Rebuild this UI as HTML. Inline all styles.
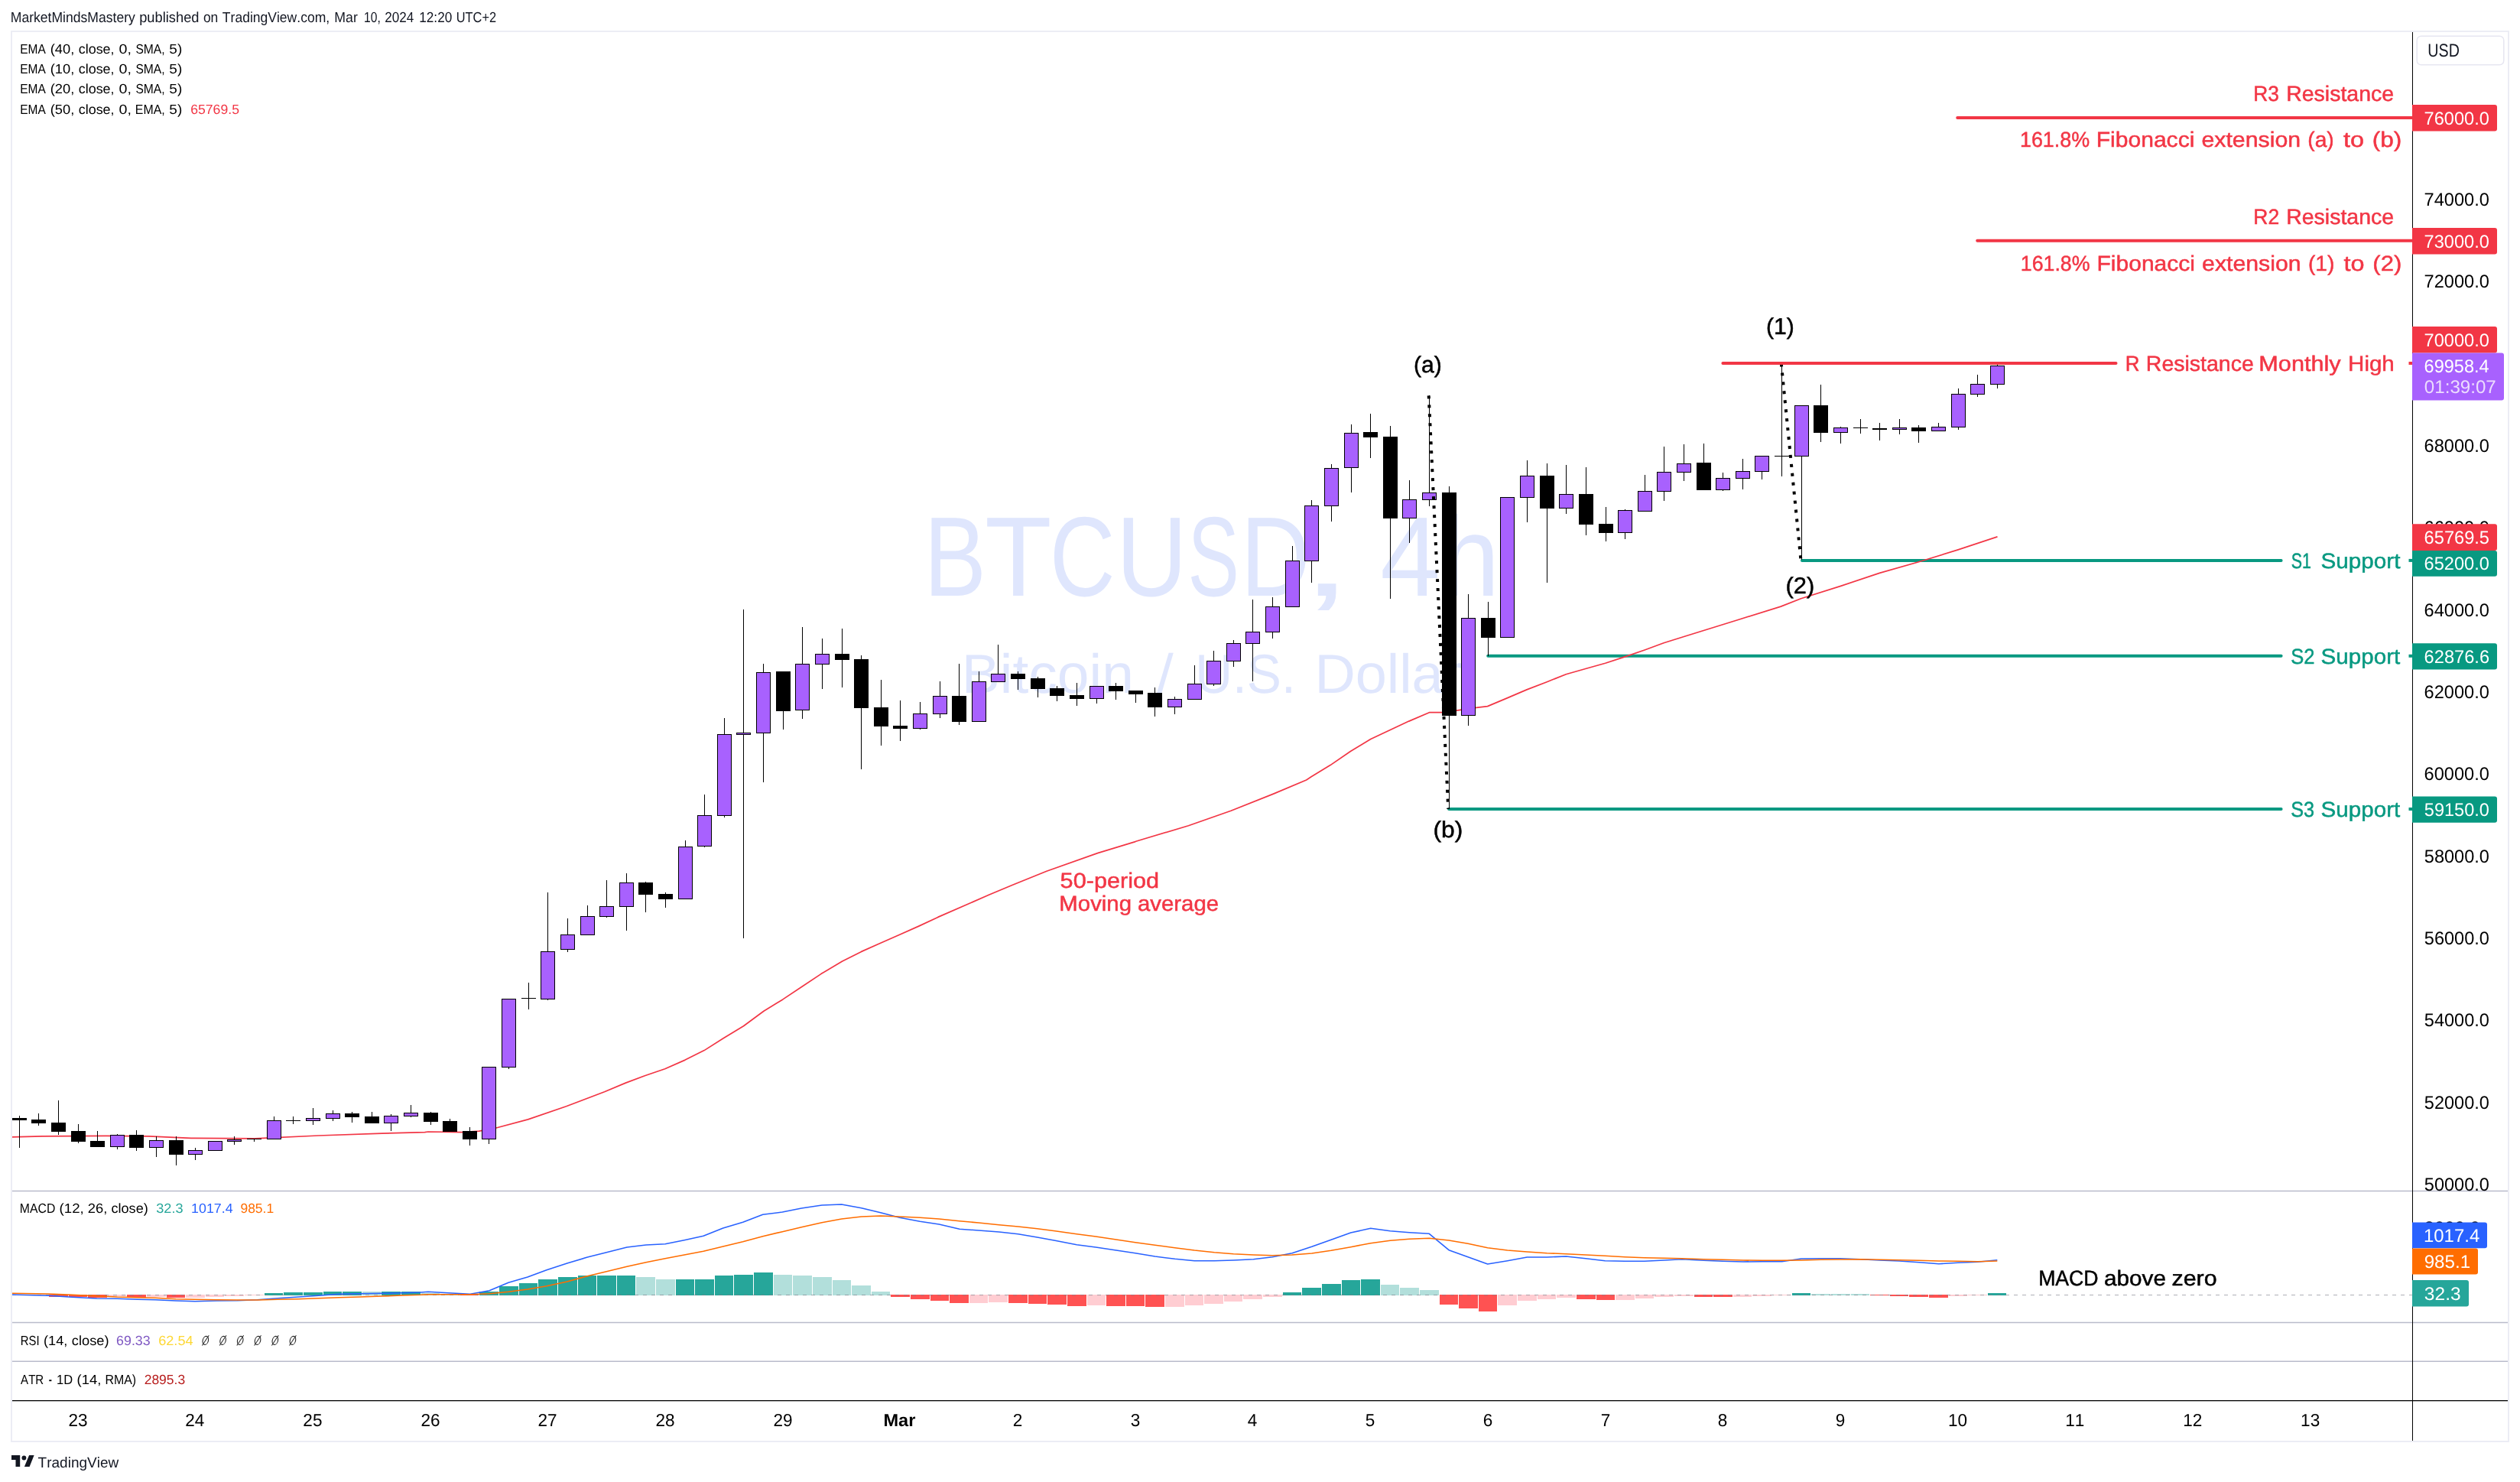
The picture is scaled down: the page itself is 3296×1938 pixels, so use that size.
<!DOCTYPE html>
<html><head><meta charset="utf-8"><title>BTCUSD 4h</title>
<style>
html,body{margin:0;padding:0;background:#fff;}
body{width:3296px;height:1938px;overflow:hidden;font-family:"Liberation Sans",sans-serif;}
svg{display:block;will-change:transform;}
svg text{font-family:"Liberation Sans",sans-serif;font-kerning:none;white-space:pre;text-rendering:geometricPrecision;}
</style></head><body>
<svg width="3296" height="1938" viewBox="0 0 3296 1938">
<rect width="3296" height="1938" fill="#fff"/>
<rect x="15" y="41" width="3266" height="1844" fill="none" stroke="#ecedf5" stroke-width="2"/>
<g><text transform="translate(1208.58 779.40) scale(0.8252 1)" font-size="148" fill="#dfe6fd">B</text><text transform="translate(1288.08 779.40) scale(0.9691 1)" font-size="148" fill="#dfe6fd">T</text><text transform="translate(1372.89 779.40) scale(0.8002 1)" font-size="148" fill="#dfe6fd">C</text><text transform="translate(1460.08 779.40) scale(0.8686 1)" font-size="148" fill="#dfe6fd">U</text><text transform="translate(1553.61 779.40) scale(0.6831 1)" font-size="148" fill="#dfe6fd">S</text><text transform="translate(1622.43 779.40) scale(0.8545 1)" font-size="148" fill="#dfe6fd">D</text><text transform="translate(1701.05 779.40) scale(1.6660 1)" font-size="148" fill="#dfe6fd">,</text><text transform="translate(1805.16 779.40) scale(0.9547 1)" font-size="148" fill="#dfe6fd">4</text><text transform="translate(1885.00 779.40) scale(0.9257 1)" font-size="148" fill="#dfe6fd">h</text><text transform="translate(1257.85 906.40) scale(1.0412 1)" font-size="72" fill="#dfe6fd">Bitcoin</text><text transform="translate(1513.00 906.40) scale(1.0848 1)" font-size="72" fill="#dfe6fd">/</text><text transform="translate(1563.18 906.40) scale(0.9390 1)" font-size="72" fill="#dfe6fd">U.S.</text><text transform="translate(1719.45 906.40) scale(1.0251 1)" font-size="72" fill="#dfe6fd">Dollar</text></g>
<line x1="16" x2="3280" y1="1557.5" y2="1557.5" stroke="#b9bbcb" stroke-width="1.5"/><line x1="16" x2="3280" y1="1729.5" y2="1729.5" stroke="#b9bbcb" stroke-width="1.5"/><line x1="16" x2="3280" y1="1780.3" y2="1780.3" stroke="#b9bbcb" stroke-width="1.5"/>
<defs><clipPath id="cp"><rect x="16" y="42" width="3139" height="1515"/></clipPath><clipPath id="cm"><rect x="16" y="1558" width="3139" height="171"/></clipPath></defs>
<g clip-path="url(#cm)"><rect x="64" y="1693" width="25" height="3" fill="#ff5252"/><rect x="90" y="1693" width="24" height="3" fill="#ff5252"/><rect x="115" y="1693" width="25" height="4" fill="#ff5252"/><rect x="141" y="1693" width="24" height="2" fill="#ffcdd2"/><rect x="166" y="1693" width="25" height="4" fill="#ff5252"/><rect x="192" y="1693" width="25" height="3" fill="#ffcdd2"/><rect x="218" y="1693" width="24" height="4" fill="#ff5252"/><rect x="243" y="1693" width="25" height="4" fill="#ffcdd2"/><rect x="269" y="1693" width="24" height="3" fill="#ffcdd2"/><rect x="294" y="1693" width="25" height="2" fill="#ffcdd2"/><rect x="320" y="1693" width="25" height="1" fill="#ffcdd2"/><rect x="346" y="1691" width="24" height="3" fill="#26a69a"/><rect x="371" y="1690" width="25" height="4" fill="#26a69a"/><rect x="397" y="1690" width="25" height="4" fill="#26a69a"/><rect x="423" y="1689" width="24" height="5" fill="#26a69a"/><rect x="448" y="1689" width="25" height="5" fill="#26a69a"/><rect x="474" y="1689" width="24" height="5" fill="#b2dfdb"/><rect x="499" y="1689" width="25" height="5" fill="#26a69a"/><rect x="525" y="1689" width="25" height="5" fill="#26a69a"/><rect x="551" y="1691" width="24" height="3" fill="#b2dfdb"/><rect x="576" y="1693" width="25" height="1" fill="#b2dfdb"/><rect x="602" y="1693" width="24" height="1" fill="#ff5252"/><rect x="627" y="1689" width="25" height="5" fill="#26a69a"/><rect x="653" y="1682" width="25" height="12" fill="#26a69a"/><rect x="679" y="1678" width="24" height="16" fill="#26a69a"/><rect x="704" y="1673" width="25" height="21" fill="#26a69a"/><rect x="730" y="1670" width="25" height="24" fill="#26a69a"/><rect x="756" y="1668" width="24" height="26" fill="#26a69a"/><rect x="781" y="1668" width="25" height="26" fill="#26a69a"/><rect x="807" y="1668" width="24" height="26" fill="#26a69a"/><rect x="832" y="1670" width="25" height="24" fill="#b2dfdb"/><rect x="858" y="1673" width="25" height="21" fill="#b2dfdb"/><rect x="884" y="1673" width="24" height="21" fill="#26a69a"/><rect x="909" y="1673" width="25" height="21" fill="#26a69a"/><rect x="935" y="1668" width="24" height="26" fill="#26a69a"/><rect x="960" y="1667" width="25" height="27" fill="#26a69a"/><rect x="986" y="1664" width="25" height="30" fill="#26a69a"/><rect x="1012" y="1667" width="24" height="27" fill="#b2dfdb"/><rect x="1037" y="1668" width="25" height="26" fill="#b2dfdb"/><rect x="1063" y="1670" width="25" height="24" fill="#b2dfdb"/><rect x="1089" y="1674" width="24" height="20" fill="#b2dfdb"/><rect x="1114" y="1681" width="25" height="13" fill="#b2dfdb"/><rect x="1140" y="1689" width="24" height="5" fill="#b2dfdb"/><rect x="1165" y="1693" width="25" height="3" fill="#ff5252"/><rect x="1191" y="1693" width="25" height="6" fill="#ff5252"/><rect x="1217" y="1693" width="24" height="8" fill="#ff5252"/><rect x="1242" y="1693" width="25" height="11" fill="#ff5252"/><rect x="1268" y="1693" width="24" height="11" fill="#ffcdd2"/><rect x="1293" y="1693" width="25" height="10" fill="#ffcdd2"/><rect x="1319" y="1693" width="25" height="11" fill="#ff5252"/><rect x="1345" y="1693" width="24" height="12" fill="#ff5252"/><rect x="1370" y="1693" width="25" height="13" fill="#ff5252"/><rect x="1396" y="1693" width="25" height="15" fill="#ff5252"/><rect x="1422" y="1693" width="24" height="14" fill="#ffcdd2"/><rect x="1447" y="1693" width="25" height="15" fill="#ff5252"/><rect x="1473" y="1693" width="24" height="15" fill="#ff5252"/><rect x="1498" y="1693" width="25" height="16" fill="#ff5252"/><rect x="1524" y="1693" width="25" height="16" fill="#ffcdd2"/><rect x="1550" y="1693" width="24" height="14" fill="#ffcdd2"/><rect x="1575" y="1693" width="25" height="12" fill="#ffcdd2"/><rect x="1601" y="1693" width="24" height="9" fill="#ffcdd2"/><rect x="1626" y="1693" width="25" height="6" fill="#ffcdd2"/><rect x="1652" y="1693" width="25" height="3" fill="#ffcdd2"/><rect x="1678" y="1690" width="24" height="4" fill="#26a69a"/><rect x="1703" y="1684" width="25" height="10" fill="#26a69a"/><rect x="1729" y="1679" width="25" height="15" fill="#26a69a"/><rect x="1755" y="1674" width="24" height="20" fill="#26a69a"/><rect x="1780" y="1673" width="25" height="21" fill="#26a69a"/><rect x="1806" y="1680" width="24" height="14" fill="#b2dfdb"/><rect x="1831" y="1684" width="25" height="10" fill="#b2dfdb"/><rect x="1857" y="1687" width="25" height="7" fill="#b2dfdb"/><rect x="1883" y="1693" width="24" height="13" fill="#ff5252"/><rect x="1908" y="1693" width="25" height="18" fill="#ff5252"/><rect x="1934" y="1693" width="24" height="22" fill="#ff5252"/><rect x="1959" y="1693" width="25" height="14" fill="#ffcdd2"/><rect x="1985" y="1693" width="25" height="8" fill="#ffcdd2"/><rect x="2011" y="1693" width="24" height="6" fill="#ffcdd2"/><rect x="2036" y="1693" width="25" height="4" fill="#ffcdd2"/><rect x="2062" y="1693" width="25" height="6" fill="#ff5252"/><rect x="2088" y="1693" width="24" height="7" fill="#ff5252"/><rect x="2113" y="1693" width="25" height="7" fill="#ffcdd2"/><rect x="2139" y="1693" width="24" height="5" fill="#ffcdd2"/><rect x="2164" y="1693" width="25" height="3" fill="#ffcdd2"/><rect x="2190" y="1693" width="25" height="2" fill="#ffcdd2"/><rect x="2216" y="1693" width="24" height="3" fill="#ff5252"/><rect x="2241" y="1693" width="25" height="3" fill="#ff5252"/><rect x="2267" y="1693" width="24" height="3" fill="#ffcdd2"/><rect x="2292" y="1693" width="25" height="2" fill="#ffcdd2"/><rect x="2318" y="1693" width="25" height="1" fill="#ffcdd2"/><rect x="2344" y="1691" width="24" height="3" fill="#26a69a"/><rect x="2369" y="1692" width="25" height="2" fill="#b2dfdb"/><rect x="2395" y="1692" width="25" height="2" fill="#b2dfdb"/><rect x="2421" y="1692" width="24" height="2" fill="#b2dfdb"/><rect x="2446" y="1693" width="25" height="1" fill="#ff5252"/><rect x="2472" y="1693" width="24" height="2" fill="#ff5252"/><rect x="2497" y="1693" width="25" height="3" fill="#ff5252"/><rect x="2523" y="1693" width="25" height="4" fill="#ff5252"/><rect x="2549" y="1693" width="24" height="2" fill="#ffcdd2"/><rect x="2574" y="1693" width="25" height="1" fill="#ffcdd2"/><rect x="2600" y="1691" width="24" height="3" fill="#26a69a"/><line x1="16" x2="3155" y1="1693.5" y2="1693.5" stroke="#787b86" stroke-opacity="0.6" stroke-width="1" stroke-dasharray="5 6"/><path d="M15.0 1693.0 L63.3 1694.3 L90.0 1696.0 L126.7 1698.0 L153.3 1698.3 L180.0 1699.3 L203.3 1699.7 L230.0 1701.0 L255.0 1701.7 L283.3 1701.0 L310.0 1700.7 L336.7 1699.7 L363.3 1697.7 L390.0 1696.0 L416.7 1694.3 L443.3 1692.3 L470.0 1691.7 L500.0 1691.3 L525.0 1690.7 L550.0 1690.0 L560.0 1689.3 L586.7 1690.7 L615.0 1692.3 L640.0 1687.7 L665.0 1677.3 L690.0 1670.0 L715.0 1660.7 L741.7 1652.0 L768.3 1644.0 L793.3 1637.7 L820.0 1631.0 L845.0 1628.0 L870.0 1626.7 L895.0 1621.7 L920.0 1616.3 L945.7 1606.0 L971.7 1598.3 L997.7 1588.3 L1023.3 1585.0 L1048.3 1580.0 L1075.0 1576.0 L1100.7 1575.0 L1126.7 1579.7 L1151.7 1585.7 L1176.7 1592.3 L1203.3 1597.3 L1228.3 1601.0 L1255.0 1607.3 L1280.0 1609.0 L1306.7 1611.0 L1331.7 1613.7 L1356.7 1618.0 L1380.0 1622.3 L1408.3 1627.7 L1433.3 1631.0 L1460.0 1635.0 L1485.0 1638.7 L1510.7 1643.0 L1536.7 1646.3 L1562.3 1648.7 L1588.3 1648.7 L1613.3 1648.0 L1639.3 1646.7 L1664.3 1643.7 L1690.0 1638.7 L1715.7 1630.3 L1741.0 1621.3 L1766.7 1612.0 L1792.7 1606.3 L1818.3 1609.7 L1843.3 1611.7 L1869.3 1613.3 L1895.0 1634.7 L1920.0 1643.7 L1945.7 1653.0 L1971.7 1648.7 L1997.3 1644.0 L2023.3 1644.0 L2048.3 1643.0 L2074.0 1645.7 L2099.3 1648.7 L2125.3 1649.3 L2150.7 1649.3 L2176.7 1648.0 L2200.0 1646.7 L2228.3 1648.3 L2253.3 1649.3 L2280.0 1650.0 L2305.0 1649.7 L2330.7 1649.7 L2356.0 1646.0 L2381.7 1645.7 L2406.7 1645.7 L2433.3 1646.7 L2458.3 1648.0 L2484.0 1649.0 L2510.0 1650.7 L2535.7 1652.7 L2561.0 1651.3 L2586.7 1650.3 L2612.3 1647.7" fill="none" stroke="#2962ff" stroke-width="1.6" stroke-linejoin="round"/><path d="M15.0 1691.3 L63.3 1692.0 L90.0 1693.0 L126.7 1694.7 L153.3 1696.0 L180.0 1696.7 L203.3 1697.3 L230.0 1698.7 L255.0 1699.3 L283.3 1699.7 L310.0 1700.0 L336.7 1700.0 L363.3 1699.3 L390.0 1698.7 L416.7 1697.7 L443.3 1696.7 L470.0 1696.0 L500.0 1695.0 L525.0 1694.0 L550.0 1693.3 L560.0 1692.7 L615.0 1692.7 L640.0 1691.7 L665.0 1689.3 L690.0 1686.0 L715.0 1681.7 L741.7 1676.0 L768.3 1668.7 L793.3 1662.7 L820.0 1656.3 L845.0 1650.7 L870.0 1645.7 L895.0 1641.0 L920.0 1636.3 L945.7 1630.0 L971.7 1623.7 L997.7 1616.7 L1023.3 1610.7 L1048.3 1604.7 L1075.0 1598.7 L1100.7 1594.0 L1126.7 1591.0 L1151.7 1590.0 L1176.7 1591.0 L1203.3 1592.3 L1228.3 1594.0 L1255.0 1596.7 L1280.0 1599.0 L1306.7 1601.7 L1331.7 1604.0 L1356.7 1606.7 L1380.0 1609.7 L1408.3 1613.7 L1433.3 1617.0 L1460.0 1621.0 L1485.0 1624.7 L1510.7 1628.3 L1536.7 1631.7 L1562.3 1635.0 L1588.3 1637.7 L1613.3 1639.7 L1639.3 1641.0 L1664.3 1641.7 L1690.0 1641.0 L1715.7 1639.0 L1741.0 1635.3 L1766.7 1630.7 L1792.7 1625.7 L1818.3 1622.3 L1843.3 1620.3 L1869.3 1619.3 L1895.0 1622.0 L1920.0 1626.3 L1945.7 1631.7 L1971.7 1635.0 L1997.3 1637.0 L2023.3 1638.7 L2048.3 1639.7 L2074.0 1641.0 L2099.3 1642.3 L2125.3 1643.7 L2150.7 1644.7 L2176.7 1645.3 L2200.0 1645.7 L2228.3 1646.7 L2253.3 1647.3 L2280.0 1648.0 L2305.0 1648.3 L2330.7 1648.3 L2356.0 1648.0 L2381.7 1647.3 L2406.7 1647.0 L2433.3 1646.7 L2458.3 1647.3 L2484.0 1647.7 L2510.0 1648.3 L2535.7 1649.0 L2561.0 1649.3 L2586.7 1649.7 L2612.3 1649.0" fill="none" stroke="#ff6d00" stroke-width="1.6" stroke-linejoin="round"/></g>
<g clip-path="url(#cp)"><line x1="2357.0" x2="2983.6" y1="732.9" y2="732.9" stroke="#089981" stroke-width="4" stroke-linecap="round"/><rect x="3150.5" y="730.9" width="4.5" height="4" fill="#089981"/><line x1="1946.2" x2="2983.6" y1="857.8" y2="857.8" stroke="#089981" stroke-width="4" stroke-linecap="round"/><rect x="3150.5" y="855.8" width="4.5" height="4" fill="#089981"/><line x1="1895.1" x2="2983.6" y1="1058.0" y2="1058.0" stroke="#089981" stroke-width="4" stroke-linecap="round"/><rect x="3150.5" y="1056.0" width="4.5" height="4" fill="#089981"/><path d="M11.1 1486.9 L55.6 1485.8 L138.9 1485.3 L194.4 1485.8 L250.0 1488.3 L333.3 1488.9 L416.7 1485.0 L500.0 1482.2 L555.6 1480.6 L560.0 1480.0 L604.4 1480.6 L626.7 1479.2 L648.9 1475.0 L690.6 1463.9 L740.6 1446.7 L790.6 1427.8 L818.3 1416.1 L843.3 1406.7 L869.7 1397.8 L896.1 1386.1 L921.1 1373.6 L946.1 1357.8 L972.5 1341.7 L998.9 1322.2 L1023.9 1306.9 L1048.9 1290.3 L1073.9 1273.6 L1101.7 1256.9 L1126.7 1244.4 L1151.7 1233.3 L1176.7 1222.2 L1201.7 1211.1 L1226.7 1199.4 L1293.9 1170.0 L1324.4 1157.2 L1368.9 1139.2 L1435.6 1115.6 L1485.0 1100.6 L1485.6 1100.3 L1554.4 1079.7 L1610.0 1060.3 L1665.6 1038.1 L1708.6 1020.0 L1715.0 1015.8 L1740.0 1000.6 L1766.4 982.5 L1792.8 966.4 L1817.8 954.7 L1842.8 943.1 L1869.4 931.7 L1885.8 931.7 L1906.7 928.9 L1928.9 925.6 L1945.6 923.6 L1970.6 913.1 L1996.9 901.9 L2023.3 891.7 L2048.3 881.7 L2074.7 874.2 L2099.7 867.2 L2125.3 858.9 L2151.1 850.0 L2176.1 840.8 L2202.5 832.5 L2275.0 810.0 L2329.2 793.1 L2355.6 782.8 L2408.3 766.1 L2458.3 749.4 L2509.7 734.7 L2561.1 718.9 L2612.5 701.9" fill="none" stroke="#f23645" stroke-width="1.7" stroke-linejoin="round"/>
<rect x="25.0" y="1459" width="1" height="42" fill="#000"/><rect x="16.0" y="1462" width="19" height="3" fill="#000"/><rect x="50.0" y="1456" width="1" height="16" fill="#000"/><rect x="41.0" y="1464" width="19" height="5" fill="#000"/><rect x="76.0" y="1439" width="1" height="45" fill="#000"/><rect x="67.0" y="1468" width="19" height="12" fill="#000"/><rect x="102.0" y="1470" width="1" height="25" fill="#000"/><rect x="93.0" y="1479" width="19" height="14" fill="#000"/><rect x="127.0" y="1479" width="1" height="21" fill="#000"/><rect x="118.0" y="1492" width="19" height="8" fill="#000"/><rect x="153.0" y="1483" width="1" height="20" fill="#000"/><rect x="144.0" y="1484" width="19" height="16" fill="#000"/><rect x="145.0" y="1485" width="17" height="14" fill="#a861fe"/><rect x="178.0" y="1478" width="1" height="27" fill="#000"/><rect x="169.0" y="1484" width="19" height="17" fill="#000"/><rect x="204.0" y="1486" width="1" height="27" fill="#000"/><rect x="195.0" y="1491" width="19" height="10" fill="#000"/><rect x="196.0" y="1492" width="17" height="8" fill="#a861fe"/><rect x="230.0" y="1486" width="1" height="38" fill="#000"/><rect x="221.0" y="1491" width="19" height="19" fill="#000"/><rect x="255.0" y="1501" width="1" height="16" fill="#000"/><rect x="246.0" y="1504" width="19" height="6" fill="#000"/><rect x="247.0" y="1505" width="17" height="4" fill="#a861fe"/><rect x="281.0" y="1492" width="1" height="13" fill="#000"/><rect x="272.0" y="1492" width="19" height="13" fill="#000"/><rect x="273.0" y="1493" width="17" height="11" fill="#a861fe"/><rect x="306.0" y="1486" width="1" height="11" fill="#000"/><rect x="297.0" y="1490" width="19" height="3" fill="#000"/><rect x="298.0" y="1491" width="17" height="1" fill="#a861fe"/><rect x="332.0" y="1489" width="1" height="4" fill="#000"/><rect x="323.0" y="1489" width="19" height="1" fill="#000"/><rect x="358.0" y="1460" width="1" height="30" fill="#000"/><rect x="349.0" y="1465" width="19" height="25" fill="#000"/><rect x="350.0" y="1466" width="17" height="23" fill="#a861fe"/><rect x="383.0" y="1460" width="1" height="10" fill="#000"/><rect x="374.0" y="1465" width="19" height="1" fill="#000"/><rect x="409.0" y="1449" width="1" height="22" fill="#000"/><rect x="400.0" y="1462" width="19" height="4" fill="#000"/><rect x="401.0" y="1463" width="17" height="2" fill="#a861fe"/><rect x="435.0" y="1452" width="1" height="14" fill="#000"/><rect x="426.0" y="1456" width="19" height="7" fill="#000"/><rect x="427.0" y="1457" width="17" height="5" fill="#a861fe"/><rect x="460.0" y="1454" width="1" height="14" fill="#000"/><rect x="451.0" y="1456" width="19" height="5" fill="#000"/><rect x="486.0" y="1454" width="1" height="15" fill="#000"/><rect x="477.0" y="1460" width="19" height="9" fill="#000"/><rect x="511.0" y="1457" width="1" height="22" fill="#000"/><rect x="502.0" y="1459" width="19" height="10" fill="#000"/><rect x="503.0" y="1460" width="17" height="8" fill="#a861fe"/><rect x="537.0" y="1445" width="1" height="16" fill="#000"/><rect x="528.0" y="1455" width="19" height="5" fill="#000"/><rect x="529.0" y="1456" width="17" height="3" fill="#a861fe"/><rect x="563.0" y="1454" width="1" height="17" fill="#000"/><rect x="554.0" y="1455" width="19" height="12" fill="#000"/><rect x="588.0" y="1463" width="1" height="17" fill="#000"/><rect x="579.0" y="1466" width="19" height="14" fill="#000"/><rect x="614.0" y="1474" width="1" height="24" fill="#000"/><rect x="605.0" y="1479" width="19" height="11" fill="#000"/><rect x="639.0" y="1395" width="1" height="101" fill="#000"/><rect x="630.0" y="1395" width="19" height="95" fill="#000"/><rect x="631.0" y="1396" width="17" height="93" fill="#a861fe"/><rect x="665.0" y="1306" width="1" height="92" fill="#000"/><rect x="656.0" y="1306" width="19" height="90" fill="#000"/><rect x="657.0" y="1307" width="17" height="88" fill="#a861fe"/><rect x="691.0" y="1285" width="1" height="35" fill="#000"/><rect x="682.0" y="1305" width="19" height="1" fill="#000"/><rect x="716.0" y="1167" width="1" height="141" fill="#000"/><rect x="707.0" y="1244" width="19" height="63" fill="#000"/><rect x="708.0" y="1245" width="17" height="61" fill="#a861fe"/><rect x="742.0" y="1201" width="1" height="44" fill="#000"/><rect x="733.0" y="1222" width="19" height="20" fill="#000"/><rect x="734.0" y="1223" width="17" height="18" fill="#a861fe"/><rect x="768.0" y="1184" width="1" height="39" fill="#000"/><rect x="759.0" y="1198" width="19" height="25" fill="#000"/><rect x="760.0" y="1199" width="17" height="23" fill="#a861fe"/><rect x="793.0" y="1151" width="1" height="49" fill="#000"/><rect x="784.0" y="1185" width="19" height="14" fill="#000"/><rect x="785.0" y="1186" width="17" height="12" fill="#a861fe"/><rect x="819.0" y="1142" width="1" height="75" fill="#000"/><rect x="810.0" y="1154" width="19" height="32" fill="#000"/><rect x="811.0" y="1155" width="17" height="30" fill="#a861fe"/><rect x="844.0" y="1153" width="1" height="40" fill="#000"/><rect x="835.0" y="1154" width="19" height="16" fill="#000"/><rect x="870.0" y="1167" width="1" height="20" fill="#000"/><rect x="861.0" y="1169" width="19" height="7" fill="#000"/><rect x="896.0" y="1099" width="1" height="77" fill="#000"/><rect x="887.0" y="1107" width="19" height="69" fill="#000"/><rect x="888.0" y="1108" width="17" height="67" fill="#a861fe"/><rect x="921.0" y="1039" width="1" height="69" fill="#000"/><rect x="912.0" y="1066" width="19" height="41" fill="#000"/><rect x="913.0" y="1067" width="17" height="39" fill="#a861fe"/><rect x="947.0" y="939" width="1" height="130" fill="#000"/><rect x="938.0" y="960" width="19" height="107" fill="#000"/><rect x="939.0" y="961" width="17" height="105" fill="#a861fe"/><rect x="972.0" y="797" width="1" height="430" fill="#000"/><rect x="963.0" y="958" width="19" height="3" fill="#000"/><rect x="964.0" y="959" width="17" height="1" fill="#a861fe"/><rect x="998.0" y="868" width="1" height="155" fill="#000"/><rect x="989.0" y="879" width="19" height="80" fill="#000"/><rect x="990.0" y="880" width="17" height="78" fill="#a861fe"/><rect x="1024.0" y="878" width="1" height="76" fill="#000"/><rect x="1015.0" y="878" width="19" height="52" fill="#000"/><rect x="1049.0" y="820" width="1" height="120" fill="#000"/><rect x="1040.0" y="868" width="19" height="61" fill="#000"/><rect x="1041.0" y="869" width="17" height="59" fill="#a861fe"/><rect x="1075.0" y="835" width="1" height="66" fill="#000"/><rect x="1066.0" y="855" width="19" height="14" fill="#000"/><rect x="1067.0" y="856" width="17" height="12" fill="#a861fe"/><rect x="1101.0" y="822" width="1" height="77" fill="#000"/><rect x="1092.0" y="855" width="19" height="8" fill="#000"/><rect x="1126.0" y="857" width="1" height="149" fill="#000"/><rect x="1117.0" y="862" width="19" height="64" fill="#000"/><rect x="1152.0" y="889" width="1" height="86" fill="#000"/><rect x="1143.0" y="925" width="19" height="25" fill="#000"/><rect x="1177.0" y="916" width="1" height="53" fill="#000"/><rect x="1168.0" y="949" width="19" height="4" fill="#000"/><rect x="1203.0" y="918" width="1" height="36" fill="#000"/><rect x="1194.0" y="933" width="19" height="20" fill="#000"/><rect x="1195.0" y="934" width="17" height="18" fill="#a861fe"/><rect x="1229.0" y="891" width="1" height="48" fill="#000"/><rect x="1220.0" y="910" width="19" height="24" fill="#000"/><rect x="1221.0" y="911" width="17" height="22" fill="#a861fe"/><rect x="1254.0" y="868" width="1" height="80" fill="#000"/><rect x="1245.0" y="910" width="19" height="34" fill="#000"/><rect x="1280.0" y="878" width="1" height="66" fill="#000"/><rect x="1271.0" y="891" width="19" height="53" fill="#000"/><rect x="1272.0" y="892" width="17" height="51" fill="#a861fe"/><rect x="1305.0" y="843" width="1" height="49" fill="#000"/><rect x="1296.0" y="881" width="19" height="11" fill="#000"/><rect x="1297.0" y="882" width="17" height="9" fill="#a861fe"/><rect x="1331.0" y="878" width="1" height="24" fill="#000"/><rect x="1322.0" y="881" width="19" height="7" fill="#000"/><rect x="1357.0" y="885" width="1" height="27" fill="#000"/><rect x="1348.0" y="887" width="19" height="14" fill="#000"/><rect x="1382.0" y="897" width="1" height="20" fill="#000"/><rect x="1373.0" y="900" width="19" height="10" fill="#000"/><rect x="1408.0" y="893" width="1" height="30" fill="#000"/><rect x="1399.0" y="909" width="19" height="5" fill="#000"/><rect x="1434.0" y="897" width="1" height="23" fill="#000"/><rect x="1425.0" y="897" width="19" height="17" fill="#000"/><rect x="1426.0" y="898" width="17" height="15" fill="#a861fe"/><rect x="1459.0" y="893" width="1" height="22" fill="#000"/><rect x="1450.0" y="897" width="19" height="7" fill="#000"/><rect x="1485.0" y="903" width="1" height="16" fill="#000"/><rect x="1476.0" y="903" width="19" height="5" fill="#000"/><rect x="1510.0" y="899" width="1" height="38" fill="#000"/><rect x="1501.0" y="906" width="19" height="19" fill="#000"/><rect x="1536.0" y="911" width="1" height="23" fill="#000"/><rect x="1527.0" y="914" width="19" height="11" fill="#000"/><rect x="1528.0" y="915" width="17" height="9" fill="#a861fe"/><rect x="1562.0" y="870" width="1" height="45" fill="#000"/><rect x="1553.0" y="894" width="19" height="21" fill="#000"/><rect x="1554.0" y="895" width="17" height="19" fill="#a861fe"/><rect x="1587.0" y="851" width="1" height="46" fill="#000"/><rect x="1578.0" y="864" width="19" height="31" fill="#000"/><rect x="1579.0" y="865" width="17" height="29" fill="#a861fe"/><rect x="1613.0" y="837" width="1" height="35" fill="#000"/><rect x="1604.0" y="841" width="19" height="24" fill="#000"/><rect x="1605.0" y="842" width="17" height="22" fill="#a861fe"/><rect x="1638.0" y="784" width="1" height="107" fill="#000"/><rect x="1629.0" y="826" width="19" height="16" fill="#000"/><rect x="1630.0" y="827" width="17" height="14" fill="#a861fe"/><rect x="1664.0" y="781" width="1" height="54" fill="#000"/><rect x="1655.0" y="793" width="19" height="34" fill="#000"/><rect x="1656.0" y="794" width="17" height="32" fill="#a861fe"/><rect x="1690.0" y="714" width="1" height="80" fill="#000"/><rect x="1681.0" y="733" width="19" height="61" fill="#000"/><rect x="1682.0" y="734" width="17" height="59" fill="#a861fe"/><rect x="1715.0" y="654" width="1" height="108" fill="#000"/><rect x="1706.0" y="661" width="19" height="73" fill="#000"/><rect x="1707.0" y="662" width="17" height="71" fill="#a861fe"/><rect x="1741.0" y="607" width="1" height="75" fill="#000"/><rect x="1732.0" y="612" width="19" height="50" fill="#000"/><rect x="1733.0" y="613" width="17" height="48" fill="#a861fe"/><rect x="1767.0" y="555" width="1" height="89" fill="#000"/><rect x="1758.0" y="566" width="19" height="46" fill="#000"/><rect x="1759.0" y="567" width="17" height="44" fill="#a861fe"/><rect x="1792.0" y="541" width="1" height="58" fill="#000"/><rect x="1783.0" y="565" width="19" height="7" fill="#000"/><rect x="1818.0" y="557" width="1" height="226" fill="#000"/><rect x="1809.0" y="571" width="19" height="107" fill="#000"/><rect x="1843.0" y="628" width="1" height="82" fill="#000"/><rect x="1834.0" y="653" width="19" height="25" fill="#000"/><rect x="1835.0" y="654" width="17" height="23" fill="#a861fe"/><rect x="1869.0" y="517" width="1" height="145" fill="#000"/><rect x="1860.0" y="644" width="19" height="10" fill="#000"/><rect x="1861.0" y="645" width="17" height="8" fill="#a861fe"/><rect x="1895.0" y="636" width="1" height="422" fill="#000"/><rect x="1886.0" y="644" width="19" height="292" fill="#000"/><rect x="1920.0" y="777" width="1" height="172" fill="#000"/><rect x="1911.0" y="808" width="19" height="128" fill="#000"/><rect x="1912.0" y="809" width="17" height="126" fill="#a861fe"/><rect x="1946.0" y="787" width="1" height="71" fill="#000"/><rect x="1937.0" y="808" width="19" height="26" fill="#000"/><rect x="1971.0" y="650" width="1" height="184" fill="#000"/><rect x="1962.0" y="650" width="19" height="184" fill="#000"/><rect x="1963.0" y="651" width="17" height="182" fill="#a861fe"/><rect x="1997.0" y="602" width="1" height="81" fill="#000"/><rect x="1988.0" y="622" width="19" height="29" fill="#000"/><rect x="1989.0" y="623" width="17" height="27" fill="#a861fe"/><rect x="2023.0" y="606" width="1" height="156" fill="#000"/><rect x="2014.0" y="622" width="19" height="43" fill="#000"/><rect x="2048.0" y="608" width="1" height="64" fill="#000"/><rect x="2039.0" y="646" width="19" height="19" fill="#000"/><rect x="2040.0" y="647" width="17" height="17" fill="#a861fe"/><rect x="2074.0" y="611" width="1" height="89" fill="#000"/><rect x="2065.0" y="646" width="19" height="40" fill="#000"/><rect x="2100.0" y="663" width="1" height="45" fill="#000"/><rect x="2091.0" y="685" width="19" height="12" fill="#000"/><rect x="2125.0" y="666" width="1" height="39" fill="#000"/><rect x="2116.0" y="667" width="19" height="30" fill="#000"/><rect x="2117.0" y="668" width="17" height="28" fill="#a861fe"/><rect x="2151.0" y="621" width="1" height="48" fill="#000"/><rect x="2142.0" y="642" width="19" height="27" fill="#000"/><rect x="2143.0" y="643" width="17" height="25" fill="#a861fe"/><rect x="2176.0" y="584" width="1" height="71" fill="#000"/><rect x="2167.0" y="617" width="19" height="26" fill="#000"/><rect x="2168.0" y="618" width="17" height="24" fill="#a861fe"/><rect x="2202.0" y="581" width="1" height="48" fill="#000"/><rect x="2193.0" y="606" width="19" height="12" fill="#000"/><rect x="2194.0" y="607" width="17" height="10" fill="#a861fe"/><rect x="2228.0" y="580" width="1" height="61" fill="#000"/><rect x="2219.0" y="605" width="19" height="36" fill="#000"/><rect x="2253.0" y="618" width="1" height="24" fill="#000"/><rect x="2244.0" y="625" width="19" height="16" fill="#000"/><rect x="2245.0" y="626" width="17" height="14" fill="#a861fe"/><rect x="2279.0" y="600" width="1" height="40" fill="#000"/><rect x="2270.0" y="616" width="19" height="10" fill="#000"/><rect x="2271.0" y="617" width="17" height="8" fill="#a861fe"/><rect x="2304.0" y="596" width="1" height="31" fill="#000"/><rect x="2295.0" y="596" width="19" height="21" fill="#000"/><rect x="2296.0" y="597" width="17" height="19" fill="#a861fe"/><rect x="2330.0" y="475" width="1" height="148" fill="#000"/><rect x="2321.0" y="596" width="19" height="1" fill="#000"/><rect x="2356.0" y="530" width="1" height="202" fill="#000"/><rect x="2347.0" y="530" width="19" height="67" fill="#000"/><rect x="2348.0" y="531" width="17" height="65" fill="#a861fe"/><rect x="2381.0" y="503" width="1" height="75" fill="#000"/><rect x="2372.0" y="530" width="19" height="36" fill="#000"/><rect x="2407.0" y="558" width="1" height="22" fill="#000"/><rect x="2398.0" y="559" width="19" height="7" fill="#000"/><rect x="2399.0" y="560" width="17" height="5" fill="#a861fe"/><rect x="2433.0" y="548" width="1" height="19" fill="#000"/><rect x="2424.0" y="559" width="19" height="1" fill="#000"/><rect x="2458.0" y="553" width="1" height="23" fill="#000"/><rect x="2449.0" y="560" width="19" height="2" fill="#000"/><rect x="2484.0" y="548" width="1" height="20" fill="#000"/><rect x="2475.0" y="559" width="19" height="3" fill="#000"/><rect x="2476.0" y="560" width="17" height="1" fill="#a861fe"/><rect x="2509.0" y="556" width="1" height="23" fill="#000"/><rect x="2500.0" y="559" width="19" height="5" fill="#000"/><rect x="2535.0" y="553" width="1" height="11" fill="#000"/><rect x="2526.0" y="558" width="19" height="6" fill="#000"/><rect x="2527.0" y="559" width="17" height="4" fill="#a861fe"/><rect x="2561.0" y="508" width="1" height="54" fill="#000"/><rect x="2552.0" y="515" width="19" height="44" fill="#000"/><rect x="2553.0" y="516" width="17" height="42" fill="#a861fe"/><rect x="2586.0" y="490" width="1" height="29" fill="#000"/><rect x="2577.0" y="502" width="19" height="14" fill="#000"/><rect x="2578.0" y="503" width="17" height="12" fill="#a861fe"/><rect x="2612.0" y="477" width="1" height="31" fill="#000"/><rect x="2603.0" y="478" width="19" height="25" fill="#000"/><rect x="2604.0" y="479" width="17" height="23" fill="#a861fe"/></g>
<line x1="1868.7" y1="517.3" x2="1894.2" y2="1058" stroke="#000" stroke-width="4" stroke-dasharray="4 8"/><line x1="2329.8" y1="475.5" x2="2355.3" y2="731" stroke="#000" stroke-width="4" stroke-dasharray="4 8"/><line x1="2560.2" x2="3155.0" y1="154.0" y2="154.0" stroke="#f23645" stroke-width="4" stroke-linecap="round"/><line x1="2586.2" x2="3155.0" y1="314.7" y2="314.7" stroke="#f23645" stroke-width="4" stroke-linecap="round"/><line x1="2253.4" x2="2767.5" y1="475.0" y2="475.0" stroke="#f23645" stroke-width="4" stroke-linecap="round"/><rect x="3150.5" y="473.0" width="4.5" height="4" fill="#f23645"/>
<text transform="translate(2947.28 132.40) scale(0.9401 1)" font-size="28" fill="#f23645" stroke="#f23645" stroke-width="0.5">R3</text><text transform="translate(2990.23 132.40) scale(1.0167 1)" font-size="28" fill="#f23645" stroke="#f23645" stroke-width="0.5">Resistance</text><text transform="translate(2641.99 192.40) scale(0.9595 1)" font-size="28" fill="#f23645" stroke="#f23645" stroke-width="0.5">161.8%</text><text transform="translate(2741.65 192.40) scale(1.0742 1)" font-size="28" fill="#f23645" stroke="#f23645" stroke-width="0.5">Fibonacci</text><text transform="translate(2879.43 192.40) scale(1.0825 1)" font-size="28" fill="#f23645" stroke="#f23645" stroke-width="0.5">extension</text><text transform="translate(3018.26 192.40) scale(1.0067 1)" font-size="28" fill="#f23645" stroke="#f23645" stroke-width="0.5">(a)</text><text transform="translate(3064.92 192.40) scale(1.1574 1)" font-size="28" fill="#f23645" stroke="#f23645" stroke-width="0.5">to</text><text transform="translate(3102.66 192.40) scale(1.1275 1)" font-size="28" fill="#f23645" stroke="#f23645" stroke-width="0.5">(b)</text><text transform="translate(2947.27 293.40) scale(0.9454 1)" font-size="28" fill="#f23645" stroke="#f23645" stroke-width="0.5">R2</text><text transform="translate(2990.23 293.40) scale(1.0167 1)" font-size="28" fill="#f23645" stroke="#f23645" stroke-width="0.5">Resistance</text><text transform="translate(2642.82 353.50) scale(0.9550 1)" font-size="28" fill="#f23645" stroke="#f23645" stroke-width="0.5">161.8%</text><text transform="translate(2742.48 353.50) scale(1.0724 1)" font-size="28" fill="#f23645" stroke="#f23645" stroke-width="0.5">Fibonacci</text><text transform="translate(2880.06 353.50) scale(1.0808 1)" font-size="28" fill="#f23645" stroke="#f23645" stroke-width="0.5">extension</text><text transform="translate(3018.88 353.50) scale(1.0067 1)" font-size="28" fill="#f23645" stroke="#f23645" stroke-width="0.5">(1)</text><text transform="translate(3065.54 353.50) scale(1.1574 1)" font-size="28" fill="#f23645" stroke="#f23645" stroke-width="0.5">to</text><text transform="translate(3103.31 353.50) scale(1.1073 1)" font-size="28" fill="#f23645" stroke="#f23645" stroke-width="0.5">(2)</text><text transform="translate(2779.78 484.80) scale(0.9261 1)" font-size="28" fill="#f23645" stroke="#f23645" stroke-width="0.5">R</text><text transform="translate(2806.87 484.80) scale(1.0173 1)" font-size="28" fill="#f23645" stroke="#f23645" stroke-width="0.5">Resistance</text><text transform="translate(2954.31 484.80) scale(1.0948 1)" font-size="28" fill="#f23645" stroke="#f23645" stroke-width="0.5">Monthly</text><text transform="translate(3071.07 484.80) scale(1.0538 1)" font-size="28" fill="#f23645" stroke="#f23645" stroke-width="0.5">High</text><text transform="translate(2996.72 742.90) scale(0.7658 1)" font-size="28" fill="#089981" stroke="#089981" stroke-width="0.5">S1</text><text transform="translate(3035.48 742.90) scale(1.0599 1)" font-size="28" fill="#089981" stroke="#089981" stroke-width="0.5">Support</text><text transform="translate(2996.24 867.60) scale(0.9123 1)" font-size="28" fill="#089981" stroke="#089981" stroke-width="0.5">S2</text><text transform="translate(3035.56 867.60) scale(1.0570 1)" font-size="28" fill="#089981" stroke="#089981" stroke-width="0.5">Support</text><text transform="translate(2996.25 1067.80) scale(0.9009 1)" font-size="28" fill="#089981" stroke="#089981" stroke-width="0.5">S3</text><text transform="translate(3035.56 1067.80) scale(1.0570 1)" font-size="28" fill="#089981" stroke="#089981" stroke-width="0.5">Support</text><text transform="translate(1386.57 1161.10) scale(1.0955 1)" font-size="28" fill="#f23645" stroke="#f23645" stroke-width="0.5">50-period</text><text transform="translate(1385.37 1191.40) scale(1.0478 1)" font-size="28" fill="#f23645" stroke="#f23645" stroke-width="0.5">Moving</text><text transform="translate(1487.92 1191.40) scale(1.0492 1)" font-size="28" fill="#f23645" stroke="#f23645" stroke-width="0.5">average</text><text transform="translate(2666.15 1680.70) scale(0.9517 1)" font-size="28" fill="#000" stroke="#000" stroke-width="0.5">MACD</text><text transform="translate(2752.07 1680.70) scale(1.0606 1)" font-size="28" fill="#000" stroke="#000" stroke-width="0.5">above</text><text transform="translate(2840.43 1680.70) scale(1.0864 1)" font-size="28" fill="#000" stroke="#000" stroke-width="0.5">zero</text><text transform="translate(1849.03 486.80) scale(1.0047 1)" font-size="30" fill="#000" stroke="#000" stroke-width="0.5">(a)</text><text transform="translate(1874.53 1095.40) scale(1.0594 1)" font-size="30" fill="#000" stroke="#000" stroke-width="0.5">(b)</text><text transform="translate(2310.03 436.80) scale(1.0047 1)" font-size="30" fill="#000" stroke="#000" stroke-width="0.5">(1)</text><text transform="translate(2335.59 775.90) scale(1.0290 1)" font-size="30" fill="#000" stroke="#000" stroke-width="0.5">(2)</text>
<text transform="translate(13.75 29.30) scale(0.9249 1)" font-size="19" fill="#131722">MarketMindsMastery</text><text transform="translate(182.16 29.30) scale(0.9628 1)" font-size="19" fill="#131722">published</text><text transform="translate(265.90 29.30) scale(0.9187 1)" font-size="19" fill="#131722">on</text><text transform="translate(290.86 29.30) scale(0.9224 1)" font-size="19" fill="#131722">TradingView.com,</text><text transform="translate(437.26 29.30) scale(0.9340 1)" font-size="19" fill="#131722">Mar</text><text transform="translate(476.02 29.30) scale(0.8221 1)" font-size="19" fill="#131722">10,</text><text transform="translate(503.33 29.30) scale(0.8997 1)" font-size="19" fill="#131722">2024</text><text transform="translate(548.19 29.30) scale(0.9066 1)" font-size="19" fill="#131722">12:20</text><text transform="translate(596.69 29.30) scale(0.8627 1)" font-size="19" fill="#131722">UTC+2</text><text transform="translate(26.23 70.20) scale(0.8838 1)" font-size="17.5" fill="#000">EMA</text><text transform="translate(65.65 70.20) scale(1.0478 1)" font-size="17.5" fill="#000">(40,</text><text transform="translate(102.69 70.20) scale(1.0260 1)" font-size="17.5" fill="#000">close,</text><text transform="translate(155.60 70.20) scale(1.1250 1)" font-size="17.5" fill="#000">0,</text><text transform="translate(177.39 70.20) scale(0.8943 1)" font-size="17.5" fill="#000">SMA,</text><text transform="translate(221.35 70.20) scale(1.0838 1)" font-size="17.5" fill="#000">5)</text><text transform="translate(26.23 96.30) scale(0.8838 1)" font-size="17.5" fill="#000">EMA</text><text transform="translate(65.65 96.30) scale(1.0478 1)" font-size="17.5" fill="#000">(10,</text><text transform="translate(102.69 96.30) scale(1.0260 1)" font-size="17.5" fill="#000">close,</text><text transform="translate(155.60 96.30) scale(1.1250 1)" font-size="17.5" fill="#000">0,</text><text transform="translate(177.39 96.30) scale(0.8943 1)" font-size="17.5" fill="#000">SMA,</text><text transform="translate(221.35 96.30) scale(1.0838 1)" font-size="17.5" fill="#000">5)</text><text transform="translate(26.23 122.40) scale(0.8838 1)" font-size="17.5" fill="#000">EMA</text><text transform="translate(65.65 122.40) scale(1.0478 1)" font-size="17.5" fill="#000">(20,</text><text transform="translate(102.69 122.40) scale(1.0260 1)" font-size="17.5" fill="#000">close,</text><text transform="translate(155.60 122.40) scale(1.1250 1)" font-size="17.5" fill="#000">0,</text><text transform="translate(177.39 122.40) scale(0.8943 1)" font-size="17.5" fill="#000">SMA,</text><text transform="translate(221.35 122.40) scale(1.0838 1)" font-size="17.5" fill="#000">5)</text><text transform="translate(26.23 148.50) scale(0.8838 1)" font-size="17.5" fill="#000">EMA</text><text transform="translate(65.65 148.50) scale(1.0478 1)" font-size="17.5" fill="#000">(50,</text><text transform="translate(102.69 148.50) scale(1.0260 1)" font-size="17.5" fill="#000">close,</text><text transform="translate(155.60 148.50) scale(1.1250 1)" font-size="17.5" fill="#000">0,</text><text transform="translate(176.80 148.50) scale(0.9087 1)" font-size="17.5" fill="#000">EMA,</text><text transform="translate(221.35 148.50) scale(1.0838 1)" font-size="17.5" fill="#000">5)</text><text transform="translate(249.20 148.50) scale(1.0076 1)" font-size="17.5" fill="#f23645">65769.5</text>
<rect x="3155" y="42" width="1" height="1842" fill="#000"/><text transform="translate(3170.59 268.80) scale(0.9836 1)" font-size="24" fill="#000">74000.0</text><text transform="translate(3170.59 376.14) scale(0.9836 1)" font-size="24" fill="#000">72000.0</text><text transform="translate(3170.60 590.82) scale(0.9835 1)" font-size="24" fill="#000">68000.0</text><text transform="translate(3170.60 698.16) scale(0.9835 1)" font-size="24" fill="#000">66000.0</text><text transform="translate(3170.60 805.50) scale(0.9835 1)" font-size="24" fill="#000">64000.0</text><text transform="translate(3170.60 912.84) scale(0.9835 1)" font-size="24" fill="#000">62000.0</text><text transform="translate(3170.60 1020.18) scale(0.9835 1)" font-size="24" fill="#000">60000.0</text><text transform="translate(3170.86 1127.52) scale(0.9805 1)" font-size="24" fill="#000">58000.0</text><text transform="translate(3170.86 1234.86) scale(0.9805 1)" font-size="24" fill="#000">56000.0</text><text transform="translate(3170.86 1342.20) scale(0.9805 1)" font-size="24" fill="#000">54000.0</text><text transform="translate(3170.86 1449.54) scale(0.9805 1)" font-size="24" fill="#000">52000.0</text><text transform="translate(3170.86 1556.88) scale(0.9805 1)" font-size="24" fill="#000">50000.0</text><text transform="translate(3170.59 1614.00) scale(0.9991 1)" font-size="24" fill="#000">2000.0</text><path d="M3155 136.9 H3263.0 a3 3 0 0 1 3 3 V168.5 a3 3 0 0 1 -3 3 H3155 Z" fill="#f23645"/><text transform="translate(3170.59 162.50) scale(0.9836 1)" font-size="24" fill="#fff">76000.0</text><path d="M3155 298.0 H3263.0 a3 3 0 0 1 3 3 V329.4 a3 3 0 0 1 -3 3 H3155 Z" fill="#f23645"/><text transform="translate(3170.59 323.50) scale(0.9836 1)" font-size="24" fill="#fff">73000.0</text><path d="M3155 427.0 H3263.0 a3 3 0 0 1 3 3 V458.5 a3 3 0 0 1 -3 3 H3155 Z" fill="#f23645"/><text transform="translate(3170.59 452.55) scale(0.9836 1)" font-size="24" fill="#fff">70000.0</text><path d="M3155 461.5 H3272.0 a3 3 0 0 1 3 3 V520.6 a3 3 0 0 1 -3 3 H3155 Z" fill="#a861fe"/><text transform="translate(3170.60 487.10) scale(0.9808 1)" font-size="24" fill="#fff">69958.4</text><text transform="translate(3170.86 514.10) scale(1.0046 1)" font-size="24" fill="#ecdcfe">01:39:07</text><path d="M3155 685.3 H3263.0 a3 3 0 0 1 3 3 V717.0 a3 3 0 0 1 -3 3 H3155 Z" fill="#f23645"/><text transform="translate(3170.60 710.95) scale(0.9843 1)" font-size="24" fill="#fff">65769.5</text><path d="M3155 720.0 H3263.0 a3 3 0 0 1 3 3 V750.7 a3 3 0 0 1 -3 3 H3155 Z" fill="#089981"/><text transform="translate(3170.60 745.15) scale(0.9835 1)" font-size="24" fill="#fff">65200.0</text><path d="M3155 841.2 H3263.0 a3 3 0 0 1 3 3 V872.5 a3 3 0 0 1 -3 3 H3155 Z" fill="#089981"/><text transform="translate(3170.60 866.65) scale(0.9848 1)" font-size="24" fill="#fff">62876.6</text><path d="M3155 1041.5 H3263.0 a3 3 0 0 1 3 3 V1072.8 a3 3 0 0 1 -3 3 H3155 Z" fill="#089981"/><text transform="translate(3170.86 1066.95) scale(0.9805 1)" font-size="24" fill="#fff">59150.0</text><path d="M3155 1598.5 H3250.0 a3 3 0 0 1 3 3 V1629.3 a3 3 0 0 1 -3 3 H3155 Z" fill="#2962ff"/><text transform="translate(3169.98 1623.70) scale(0.9975 1)" font-size="24" fill="#fff">1017.4</text><path d="M3155 1632.6 H3238.0 a3 3 0 0 1 3 3 V1663.5 a3 3 0 0 1 -3 3 H3155 Z" fill="#ff6d00"/><text transform="translate(3170.67 1657.85) scale(1.0076 1)" font-size="24" fill="#fff">985.1</text><path d="M3155 1674.0 H3226.0 a3 3 0 0 1 3 3 V1705.5 a3 3 0 0 1 -3 3 H3155 Z" fill="#26a69a"/><text transform="translate(3170.87 1699.55) scale(1.0214 1)" font-size="24" fill="#fff">32.3</text><rect x="3161.2" y="47.2" width="113.6" height="37.6" rx="5.5" fill="#fff" stroke="#e6e6f1" stroke-width="1.5"/><text transform="translate(3175.28 73.70) scale(0.8202 1)" font-size="24" fill="#131722">USD</text><rect x="16" y="1831" width="3264" height="1.3" fill="#000"/>
<text transform="translate(25.85 1586.40) scale(0.9024 1)" font-size="17.5" fill="#000">MACD</text><text transform="translate(77.57 1586.40) scale(1.0679 1)" font-size="17.5" fill="#000">(12,</text><text transform="translate(114.79 1586.40) scale(1.0522 1)" font-size="17.5" fill="#000">26,</text><text transform="translate(145.42 1586.40) scale(1.0369 1)" font-size="17.5" fill="#000">close)</text><text transform="translate(204.23 1586.40) scale(1.0363 1)" font-size="17.5" fill="#26a69a">32.3</text><text transform="translate(250.07 1586.40) scale(1.0197 1)" font-size="17.5" fill="#2962ff">1017.4</text><text transform="translate(314.42 1586.40) scale(0.9987 1)" font-size="17.5" fill="#ff6d00">985.1</text><text transform="translate(26.72 1758.60) scale(0.8507 1)" font-size="17.5" fill="#000">RSI</text><text transform="translate(56.97 1758.60) scale(1.0391 1)" font-size="17.5" fill="#000">(14,</text><text transform="translate(93.83 1758.60) scale(1.0440 1)" font-size="17.5" fill="#000">close)</text><text transform="translate(152.11 1758.60) scale(1.0171 1)" font-size="17.5" fill="#7e57c2">69.33</text><text transform="translate(207.17 1758.60) scale(1.0372 1)" font-size="17.5" fill="#fdd835">62.54</text><g transform="translate(268.81 1752.9) skewX(-9)"><ellipse cx="0" cy="0" rx="3.7" ry="5.5" fill="none" stroke="#222" stroke-width="1.1"/><line x1="-3.4" y1="6.6" x2="3.4" y2="-6.6" stroke="#222" stroke-width="1"/></g><g transform="translate(291.59 1752.9) skewX(-9)"><ellipse cx="0" cy="0" rx="3.7" ry="5.5" fill="none" stroke="#222" stroke-width="1.1"/><line x1="-3.4" y1="6.6" x2="3.4" y2="-6.6" stroke="#222" stroke-width="1"/></g><g transform="translate(314.21 1752.9) skewX(-9)"><ellipse cx="0" cy="0" rx="3.7" ry="5.5" fill="none" stroke="#222" stroke-width="1.1"/><line x1="-3.4" y1="6.6" x2="3.4" y2="-6.6" stroke="#222" stroke-width="1"/></g><g transform="translate(337.06 1752.9) skewX(-9)"><ellipse cx="0" cy="0" rx="3.7" ry="5.5" fill="none" stroke="#222" stroke-width="1.1"/><line x1="-3.4" y1="6.6" x2="3.4" y2="-6.6" stroke="#222" stroke-width="1"/></g><g transform="translate(359.84 1752.9) skewX(-9)"><ellipse cx="0" cy="0" rx="3.7" ry="5.5" fill="none" stroke="#222" stroke-width="1.1"/><line x1="-3.4" y1="6.6" x2="3.4" y2="-6.6" stroke="#222" stroke-width="1"/></g><g transform="translate(382.94 1752.9) skewX(-9)"><ellipse cx="0" cy="0" rx="3.7" ry="5.5" fill="none" stroke="#222" stroke-width="1.1"/><line x1="-3.4" y1="6.6" x2="3.4" y2="-6.6" stroke="#222" stroke-width="1"/></g><text transform="translate(27.11 1809.60) scale(0.8598 1)" font-size="17.5" fill="#000">ATR</text><text transform="translate(60.17 1809.60) scale(1.9052 1)" font-size="17.5" fill="#000">·</text><text transform="translate(73.98 1809.60) scale(0.9429 1)" font-size="17.5" fill="#000">1D</text><text transform="translate(100.60 1809.60) scale(1.0564 1)" font-size="17.5" fill="#000">(14,</text><text transform="translate(137.42 1809.60) scale(0.9104 1)" font-size="17.5" fill="#000">RMA)</text><text transform="translate(188.64 1809.60) scale(1.0006 1)" font-size="17.5" fill="#b71c1c">2895.3</text>
<text transform="translate(89.39 1865.00) scale(0.9800 1)" font-size="23" fill="#000">23</text><text transform="translate(242.23 1865.00) scale(0.9800 1)" font-size="23" fill="#000">24</text><text transform="translate(396.37 1865.00) scale(0.9800 1)" font-size="23" fill="#000">25</text><text transform="translate(550.39 1865.00) scale(0.9800 1)" font-size="23" fill="#000">26</text><text transform="translate(703.46 1865.00) scale(0.9800 1)" font-size="23" fill="#000">27</text><text transform="translate(857.39 1865.00) scale(0.9800 1)" font-size="23" fill="#000">28</text><text transform="translate(1011.43 1865.00) scale(0.9800 1)" font-size="23" fill="#000">29</text><text transform="translate(1155.42 1865.00) scale(1.0253 1)" font-size="23" fill="#000" font-weight="bold">Mar</text><text transform="translate(1324.73 1865.00) scale(0.9800 1)" font-size="23" fill="#000">2</text><text transform="translate(1478.80 1865.00) scale(0.9800 1)" font-size="23" fill="#000">3</text><text transform="translate(1631.80 1865.00) scale(0.9800 1)" font-size="23" fill="#000">4</text><text transform="translate(1785.75 1865.00) scale(0.9800 1)" font-size="23" fill="#000">5</text><text transform="translate(1939.66 1865.00) scale(0.9800 1)" font-size="23" fill="#000">6</text><text transform="translate(2093.72 1865.00) scale(0.9800 1)" font-size="23" fill="#000">7</text><text transform="translate(2246.73 1865.00) scale(0.9800 1)" font-size="23" fill="#000">8</text><text transform="translate(2400.74 1865.00) scale(0.9800 1)" font-size="23" fill="#000">9</text><text transform="translate(2548.05 1865.00) scale(0.9800 1)" font-size="23" fill="#000">10</text><text transform="translate(2701.16 1865.00) scale(0.9800 1)" font-size="23" fill="#000">11</text><text transform="translate(2855.17 1865.00) scale(0.9800 1)" font-size="23" fill="#000">12</text><text transform="translate(3009.10 1865.00) scale(0.9800 1)" font-size="23" fill="#000">13</text>
<g fill="#131722"><path d="M15 1903.1 H26.2 V1917.9 H20.5 V1909 H15 Z"/><circle cx="31.4" cy="1906.5" r="2.9"/><path d="M38.1 1903.1 H44.6 L38.6 1917.9 H31.9 Z"/></g><text transform="translate(49.57 1918.80) scale(0.9861 1)" font-size="19.3" fill="#131722">TradingView</text>
</svg>
</body></html>
